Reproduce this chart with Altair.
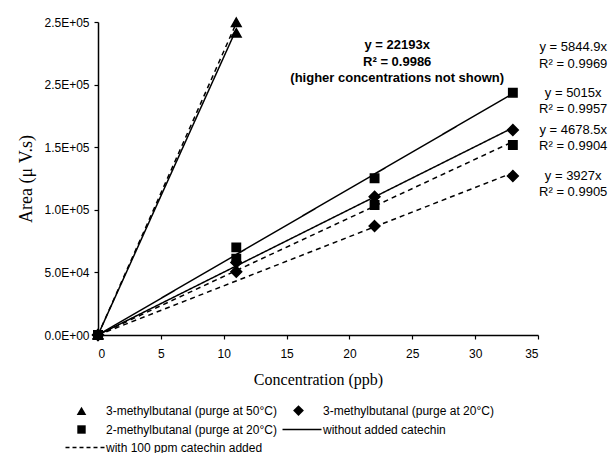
import altair as alt
import pandas as pd

# ---------------- data ----------------
TRI = "3-methylbutanal (purge at 50°C)"
DIA = "3-methylbutanal (purge at 20°C)"
SQ = "2-methylbutanal (purge at 20°C)"
SOLID = "without added catechin"
DASH = "with 100 ppm catechin added"
# legend entries, column by column (column 1 then column 2)
LEGEND_LABELS = [TRI, SQ, DASH, DIA, SOLID]
CONDITIONS = [SOLID, DASH]

# measured points (concentration in ppb, area in µV.s)
conc_low = [0, 11]
conc_all = [0, 11, 22, 33]

tri_solid_area = [0, 241000]
tri_dash_area = [0, 249500]
sq_solid_area = [0, 70000, 125200, 193500]
sq_dash_area = [0, 61000, 103800, 151800]
dia_solid_area = [0, 58000, 110500, 163700]
dia_dash_area = [0, 50500, 87000, 127000]

# fitted slopes (y = a x)
tri_solid_slope = 22193
tri_dash_slope = 22650
sq_solid_slope = 5844.9
sq_dash_slope = 4678.5
dia_solid_slope = 5015
dia_dash_slope = 3927

center_text = ["y = 22193x", "R² = 0.9986", "(higher concentrations not shown)"]
right_text = ["y = 5844.9x", "R² = 0.9969", "y = 5015x", "R² = 0.9957",
              "y = 4678.5x", "R² = 0.9904", "y = 3927x", "R² = 0.9905"]

# ---------------- tables ----------------
pts = []
for lab, cond, xs, ys in [
    (TRI, SOLID, conc_low, tri_solid_area),
    (TRI, DASH, conc_low, tri_dash_area),
    (SQ, SOLID, conc_all, sq_solid_area),
    (SQ, DASH, conc_all, sq_dash_area),
    (DIA, SOLID, conc_all, dia_solid_area),
    (DIA, DASH, conc_all, dia_dash_area),
]:
    for x, y in zip(xs, ys):
        pts.append({"series": lab, "cond": cond, "x": x, "y": y})
pts_df = pd.DataFrame(pts)

lines = []
for lid, cond, slope, xmax in [
    ("tri_s", SOLID, tri_solid_slope, conc_low[-1]),
    ("tri_d", DASH, tri_dash_slope, conc_low[-1]),
    ("sq_s", SOLID, sq_solid_slope, conc_all[-1]),
    ("sq_d", DASH, sq_dash_slope, conc_all[-1]),
    ("dia_s", SOLID, dia_solid_slope, conc_all[-1]),
    ("dia_d", DASH, dia_dash_slope, conc_all[-1]),
]:
    for x in (0, xmax):
        lines.append({"id": lid, "cond": cond, "x": x, "y": slope * x})
lines_df = pd.DataFrame(lines)

# annotation placement (data units)
center_x = 23.8
center_y = [231600, 218050, 205270]
right_x = 37.8
right_y = [230030, 216450, 193290, 180510, 163740, 150960, 127000, 114220]
ctext_df = pd.DataFrame({"x": [center_x] * 3, "y": center_y, "t": center_text})
rtext_df = pd.DataFrame({"x": [right_x] * 8, "y": right_y, "t": right_text})

# symbol glyphs (normalised path units; 1 unit = 10 px at SYM_SIZE)
SYM_SIZE = 400


def bar(a, b, h=0.075):
    return f"M{a},{-h}L{b},{-h}L{b},{h}L{a},{h}Z"


SHAPE_OF = {
    TRI: "M0,-0.46L0.48,0.38L-0.48,0.38Z",
    DIA: "M0,-0.54L0.54,0L0,0.54L-0.54,0Z",
    SQ: "M-0.42,-0.42L0.42,-0.42L0.42,0.42L-0.42,0.42Z",
    SOLID: bar(-1.6, 2.3),
    DASH: "".join(bar(a, a + 0.4) for a in (-1.6, -0.9, -0.2, 0.5, 1.2, 1.9)),
}
SHAPES = [SHAPE_OF[k] for k in LEGEND_LABELS]

xscale = alt.Scale(domain=[0, 35], nice=False, zero=True)
yscale = alt.Scale(domain=[0, 250000], nice=False)

label_expr = ("datum.value == 0 ? '0.0E+00' : datum.value == 50000 ? '5.0E+04' : "
              "datum.value == 100000 ? '1.0E+05' : datum.value == 150000 ? '1.5E+05' : '2.5E+05'")

X = alt.X("x:Q", scale=xscale, title="Concentration (ppb)",
          axis=alt.Axis(values=[0, 5, 10, 15, 20, 25, 30, 35], format="d", labelPadding=9,
                        titleFont="Liberation Serif", titleFontSize=16,
                        titleFontWeight="normal", titlePadding=12))
Y = alt.Y("y:Q", scale=yscale, title="Area (μ V.s)",
          axis=alt.Axis(values=[0, 50000, 100000, 150000, 200000, 250000],
                        labelExpr=label_expr, titleFont="Liberation Serif",
                        titleFontSize=18, titleFontWeight="normal", titlePadding=8))

line_layer = alt.Chart(lines_df).mark_line(color="black", strokeWidth=1.5).encode(
    x=X, y=Y, detail="id:N",
    strokeDash=alt.StrokeDash("cond:N", scale=alt.Scale(domain=CONDITIONS, range=[[1, 0], [5, 4]]),
                              legend=None),
)

point_layer = alt.Chart(pts_df).mark_point(
    filled=False, fill="black", fillOpacity=1, stroke="black", strokeWidth=1.5,
    opacity=1, size=SYM_SIZE
).encode(
    x="x:Q", y="y:Q",
    shape=alt.Shape("series:N", scale=alt.Scale(domain=LEGEND_LABELS, range=SHAPES),
                    legend=alt.Legend(title=None, orient="none", legendX=-27, legendY=378,
                                      columns=2, columnPadding=3, rowPadding=1,
                                      labelFont="Liberation Sans", labelFontSize=12,
                                      labelColor="black", labelOffset=14,
                                      symbolSize=SYM_SIZE, symbolFillColor="black",
                                      symbolStrokeColor="black", symbolStrokeWidth=1,
                                      symbolOpacity=1, labelLimit=400)),
)

ctext = alt.Chart(ctext_df).mark_text(font="Liberation Sans", fontSize=13, fontWeight="bold",
                                      color="black", align="center", baseline="middle").encode(
    x="x:Q", y="y:Q", text="t:N")
rtext = alt.Chart(rtext_df).mark_text(font="Liberation Sans", fontSize=13,
                                      color="black", align="center", baseline="middle").encode(
    x="x:Q", y="y:Q", text="t:N")

chart = alt.layer(line_layer, point_layer, ctext, rtext).properties(
    width=440, height=313,
    autosize=alt.AutoSizeParams(type="none"),
    padding={"left": 98, "top": 22, "right": 78, "bottom": 118},
    background="white",
).configure_view(stroke=None).configure_axis(
    domainColor="black", domainWidth=1.5, tickColor="black", tickSize=4, tickWidth=1.2,
    labelFont="Liberation Sans", labelFontSize=12, labelColor="black", labelPadding=5,
    grid=False, titleColor="black",
)

chart.save("out.html", embed_options={"renderer": "svg", "actions": False})
